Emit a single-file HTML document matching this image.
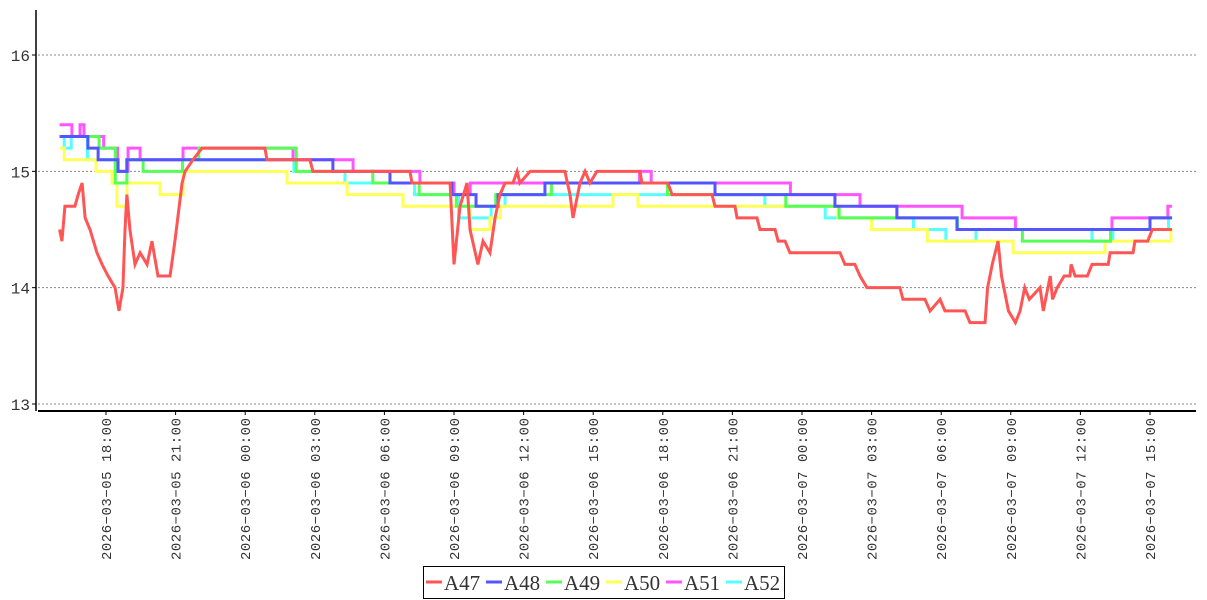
<!DOCTYPE html>
<html><head><meta charset="utf-8">
<style>
body{margin:0;background:#fff;width:1207px;height:600px;overflow:hidden}
svg{display:block}
</style></head>
<body>
<svg id="chart" width="1207" height="600" xmlns="http://www.w3.org/2000/svg">
<g id="grid"></g>
<g id="series"></g>
<line x1="36" y1="10" x2="36" y2="411" stroke="#000" stroke-width="1.5"/>
<line x1="38" y1="411" x2="1196" y2="411" stroke="#000" stroke-width="2"/>
<g id="yticks"></g>
<g id="xticks"></g>
<g id="legend">
<rect x="423.5" y="566.5" width="361" height="32" fill="#fff" stroke="#000" stroke-width="1"/>
</g>
</svg>
<script>
// hours relative to 2026-03-05 18:00
const seriesNames = ['A47','A48','A49','A50','A51','A52'];
const seriesColors = ['#ff5555','#5555ff','#55ff55','#ffff55','#ff55ff','#55ffff'];
const yTicks = [13,14,15,16];
const xTickHours = [0,3,6,9,12,15,18,21,24,27,30,33,36,39,42,45];
const xTickLabels = ['2026-03-05  18:00','2026-03-05  21:00','2026-03-06  00:00','2026-03-06  03:00','2026-03-06  06:00','2026-03-06  09:00','2026-03-06  12:00','2026-03-06  15:00','2026-03-06  18:00','2026-03-06  21:00','2026-03-07  00:00','2026-03-07  03:00','2026-03-07  06:00','2026-03-07  09:00','2026-03-07  12:00','2026-03-07  15:00'];
const endHour = 45.95;

// A47: point series (drawn as polyline)
const a47Hours = [-2.0,-1.9,-1.77,-1.34,-1.2,-1.03,-0.9,-0.69,-0.39,-0.17,0.09,0.39,0.56,0.73,0.82,0.9,1.03,1.25,1.47,1.77,1.98,2.24,2.76,2.97,3.28,3.41,3.75,4.14,6.85,6.94,8.79,8.92,13.1,13.19,14.83,15.0,15.26,15.56,15.69,16.03,16.25,16.55,16.77,16.98,17.2,17.54,17.72,17.84,18.28,19.78,20.0,20.13,20.43,20.65,20.86,21.16,23.02,23.1,24.22,24.4,26.12,26.25,27.11,27.2,28.06,28.19,28.84,28.97,29.27,29.48,31.64,31.85,32.28,32.5,32.8,34.22,34.35,35.3,35.52,35.95,36.16,37.03,37.24,37.89,38.0,38.2,38.45,38.6,38.9,39.2,39.4,39.6,39.8,40.26,40.4,40.6,40.7,40.8,41.0,41.3,41.55,41.6,41.77,42.3,42.5,43.2,43.28,44.27,44.35,44.9,45.1,45.95];
const a47Values = [14.5,14.4,14.7,14.7,14.8,14.9,14.6,14.5,14.3,14.2,14.1,14.0,13.8,14.0,14.5,14.8,14.5,14.2,14.3,14.2,14.4,14.1,14.1,14.4,14.9,15.0,15.1,15.2,15.2,15.1,15.1,15.0,15.0,14.9,14.9,14.2,14.7,14.9,14.5,14.2,14.4,14.3,14.6,14.8,14.9,14.9,15.0,14.9,15.0,15.0,14.8,14.6,14.9,15.0,14.9,15.0,15.0,14.9,14.9,14.8,14.8,14.7,14.7,14.6,14.6,14.5,14.5,14.4,14.4,14.3,14.3,14.2,14.2,14.1,14.0,14.0,13.9,13.9,13.8,13.9,13.8,13.8,13.7,13.7,14.0,14.2,14.4,14.1,13.8,13.7,13.8,14.0,13.9,14.0,13.8,14.0,14.1,13.9,14.0,14.1,14.1,14.2,14.1,14.1,14.2,14.2,14.3,14.3,14.4,14.4,14.5,14.5];

// step series: change hours and values
const a48Hours = [-2.0,-0.78,-0.34,0.52,0.9,9.78,12.24,14.91,15.95,16.9,18.92,26.25,31.42,34.09,36.68,45.0];
const a48Values = [15.3,15.2,15.1,15.0,15.1,15.0,14.9,14.8,14.7,14.8,14.9,14.8,14.7,14.6,14.5,14.6];
const a49Hours = [-2.0,-0.3,0.4,0.9,1.6,3.3,4.0,8.2,11.5,13.5,15.1,16.8,19.2,24.2,29.3,31.6,36.7,39.5,43.3,45.0];
const a49Values = [15.3,15.2,14.9,15.1,15.0,15.1,15.2,15.0,14.9,14.8,14.7,14.8,14.9,14.8,14.7,14.6,14.5,14.4,14.5,14.6];
const a50Hours = [-2.0,-1.8,-0.43,0.26,0.47,0.9,2.33,3.32,7.8,10.39,12.8,15.69,16.55,17.0,21.85,22.93,31.55,33.0,35.4,39.1,43.06,45.9];
const a50Values = [15.2,15.1,15.0,14.9,14.7,14.9,14.8,15.0,14.9,14.8,14.7,14.5,14.6,14.7,14.8,14.7,14.6,14.5,14.4,14.3,14.4,14.5];
const a51Hours = [-2.0,-1.47,-1.12,-0.95,-0.1,0.5,0.95,1.47,3.32,8.06,10.65,13.53,15.0,15.7,23.0,23.5,29.5,32.5,36.9,39.2,43.36,45.77];
const a51Values = [15.4,15.3,15.4,15.3,15.2,15.0,15.2,15.1,15.2,15.1,15.0,14.9,14.8,14.9,15.0,14.9,14.8,14.7,14.6,14.5,14.6,14.7];
const a52Hours = [-2.0,-1.8,-1.5,-0.8,0.4,0.9,8.1,10.3,13.3,15.2,16.6,17.2,28.4,31.0,34.8,36.2,37.5,42.5,43.4,45.8];
const a52Values = [15.3,15.2,15.3,15.1,15.0,15.1,15.0,14.9,14.8,14.6,14.7,14.8,14.7,14.6,14.5,14.4,14.5,14.4,14.5,14.6];

const NS='http://www.w3.org/2000/svg';
function xScale(h){return 106 + h*23.2;}
function yScale(v){return 404 - (v-13)*116.33;}
function mk(tag,attrs,parent){const e=document.createElementNS(NS,tag);for(const k in attrs)e.setAttribute(k,attrs[k]);parent.appendChild(e);return e;}

const grid=document.getElementById('grid');
const yt=document.getElementById('yticks');
yTicks.forEach(v=>{
  const y=yScale(v);
  const g=mk('line',{x1:38,y1:y,x2:1196,y2:y,stroke:'#888','stroke-width':1,'stroke-dasharray':'2,2'},grid);
  
  
  const t=mk('line',{x1:32,y1:y,x2:36,y2:y,stroke:'#000'},yt);
  
  
  const tx=mk('text',{x:30,y:y+6,'text-anchor':'end','font-family':'Liberation Mono, monospace','font-size':16,fill:'#333'},yt);
  tx.textContent=String(v);
  
  
});

const xt=document.getElementById('xticks');
xTickHours.forEach((h,i)=>{
  const x=xScale(h);
  const t=mk('line',{x1:x,y1:411,x2:x,y2:415,stroke:'#000'},xt);
  
  
  const tx=mk('text',{x:0,y:0,'text-anchor':'end','font-family':'Liberation Mono, monospace','font-size':14,fill:'#333','xml:space':'preserve',textLength:142,lengthAdjust:'spacing',transform:'translate('+(x+5)+',418) rotate(-90)'},xt);
  tx.textContent=xTickLabels[i].replace(/-/g,'\u2212');
  
  
});

function stepPoints(hs,vs){
  const pts=[];
  for(let i=0;i<hs.length;i++){
    const x=xScale(hs[i]);
    if(i>0)pts.push(x+','+yScale(vs[i-1]));
    pts.push(x+','+yScale(vs[i]));
  }
  pts.push(xScale(endHour)+','+yScale(vs[vs.length-1]));
  return pts.join(' ');
}
function linePoints(hs,vs){return hs.map((h,i)=>xScale(h)+','+yScale(vs[i])).join(' ');}

const sg=document.getElementById('series');
const stepData=[[a52Hours,a52Values,5],[a51Hours,a51Values,4],[a50Hours,a50Values,3],[a49Hours,a49Values,2],[a48Hours,a48Values,1]];
stepData.forEach(d=>{
  const p=mk('polyline',{points:stepPoints(d[0],d[1]),fill:'none',stroke:seriesColors[d[2]],'stroke-width':3,'stroke-linejoin':'miter'},sg);
  
  
});
const red=mk('polyline',{points:linePoints(a47Hours,a47Values),fill:'none',stroke:seriesColors[0],'stroke-width':3},sg);



const lg=document.getElementById('legend');
let lx=426;
seriesNames.forEach((n,i)=>{
  const l=mk('line',{x1:lx,y1:582,x2:lx+16,y2:582,stroke:seriesColors[i],'stroke-width':3},lg);
  
  
  const t=mk('text',{x:lx+18,y:590,'font-family':'Liberation Serif, serif','font-size':21,fill:'#333'},lg);
  t.textContent=n;
  
  
  lx+=60;
});
</script>
</body></html>
